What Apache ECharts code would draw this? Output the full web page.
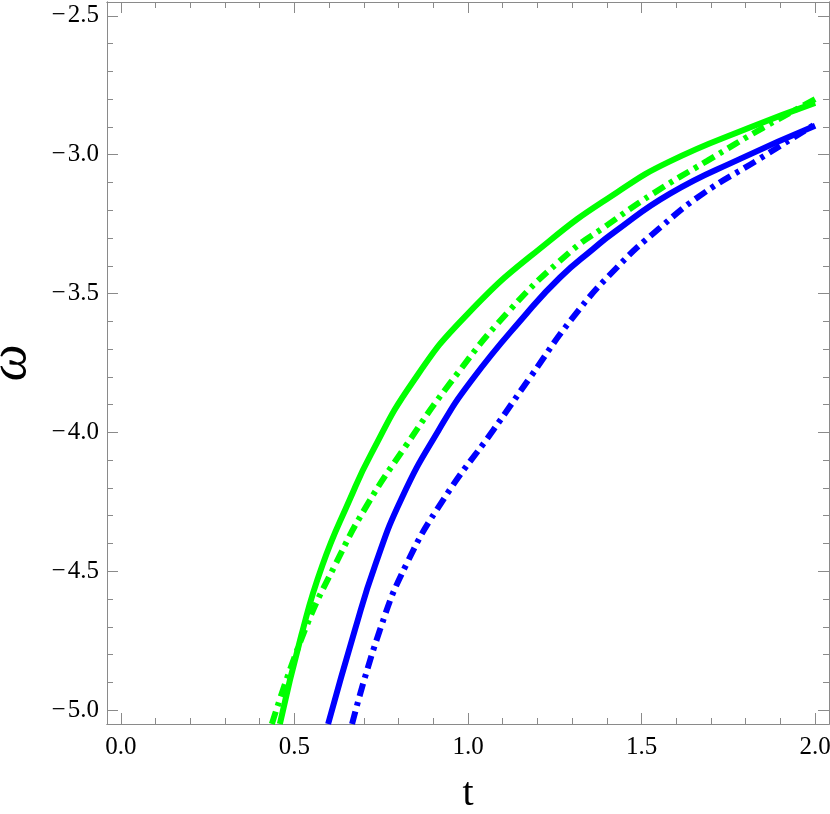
<!DOCTYPE html>
<html>
<head>
<meta charset="utf-8">
<script src="https://cdn.jsdelivr.net/npm/echarts@6/dist/echarts.min.js"></script>
<style>
html,body{margin:0;padding:0;background:#ffffff;}
#chart{width:830px;height:814px;}
</style>
</head>
<body>
<div id="chart"></div>
<script>
// Tick positions / labels
const xMajorTicks = [0.0, 0.5, 1.0, 1.5, 2.0];
const xMinorTicks = [0.1, 0.2, 0.3, 0.4, 0.6, 0.7, 0.8, 0.9, 1.1, 1.2, 1.3, 1.4, 1.6, 1.7, 1.8, 1.9];
const yMajorTicks = [-2.5, -3.0, -3.5, -4.0, -4.5, -5.0];
const yMinorTicks = [-2.6, -2.7, -2.8, -2.9, -3.1, -3.2, -3.3, -3.4, -3.6, -3.7, -3.8, -3.9,
                     -4.1, -4.2, -4.3, -4.4, -4.6, -4.7, -4.8, -4.9];

// Series values (t, omega)
const greenSolidT = [0.458, 0.52, 0.58, 0.66, 0.72, 0.84, 1.0, 1.23, 1.43, 1.58, 1.81, 2.0];
const greenSolidW = [-5.05, -4.73, -4.48, -4.24, -4.08, -3.82, -3.572, -3.315, -3.135, -3.025, -2.903, -2.813];

const greenDashT = [0.435, 0.53, 0.62, 0.71, 0.82, 0.95, 1.12, 1.294, 1.39, 1.533, 1.689, 1.85, 2.0];
const greenDashW = [-5.05, -4.712, -4.47, -4.26, -4.05, -3.82, -3.56, -3.35, -3.263, -3.14, -3.022, -2.903, -2.80];

const blueSolidT = [0.597, 0.674, 0.732, 0.81, 0.915, 1.01, 1.17, 1.265, 1.36, 1.42, 1.582, 1.784, 2.0];
const blueSolidW = [-5.05, -4.712, -4.48, -4.234, -3.993, -3.813, -3.57, -3.442, -3.34, -3.28, -3.14, -3.015, -2.896];

const blueDashT = [0.666, 0.746, 0.824, 0.93, 1.072, 1.18, 1.303, 1.429, 1.553, 1.677, 1.833, 2.0];
const blueDashW = [-5.05, -4.712, -4.471, -4.24, -3.993, -3.80, -3.585, -3.406, -3.263, -3.14, -3.02, -2.89];

const zip = (a, b) => a.map((v, i) => [v, b[i]]);

const frameColor = '#8a8a8a';
const labelFont = { fontFamily: 'Liberation Serif', fontSize: 25, color: '#000' };
const fmtX = v => v.toFixed(1);
const fmtY = v => (v < 0 ? '\u2212\u200A' : '') + Math.abs(v).toFixed(1);

function xAxisDef(position, ticks, len, withLabels, extra) {
  return Object.assign({
    type: 'value', gridIndex: 0, position: position, min: -0.04, max: 2.04,
    axisLine: { show: true, onZero: false, lineStyle: { color: frameColor, width: 1 } },
    axisTick: { show: true, inside: true, length: len, customValues: ticks, lineStyle: { color: frameColor, width: 1 } },
    axisLabel: withLabels ? Object.assign({ show: true, margin: 11, customValues: xMajorTicks, formatter: fmtX }, labelFont) : { show: false },
    splitLine: { show: false }
  }, extra || {});
}
function yAxisDef(position, ticks, len, withLabels, extra) {
  return Object.assign({
    type: 'value', gridIndex: 0, position: position, min: -5.05, max: -2.45,
    axisLine: { show: true, onZero: false, lineStyle: { color: frameColor, width: 1 } },
    axisTick: { show: true, inside: true, length: len, customValues: ticks, lineStyle: { color: frameColor, width: 1 } },
    axisLabel: withLabels ? Object.assign({ show: true, margin: 8, customValues: yMajorTicks, formatter: fmtY }, labelFont) : { show: false },
    splitLine: { show: false }
  }, extra || {});
}

const chart = echarts.init(document.getElementById('chart'), null, { renderer: 'canvas' });

const dashPattern = [13, 6, 4, 6];
const lineSeries = (t, w, color, dashed) => ({
  type: 'line', xAxisIndex: 0, yAxisIndex: 0, data: zip(t, w), smooth: 0.5,
  showSymbol: false, symbol: 'none', clip: true,
  lineStyle: dashed ? { color: color, width: 6, type: dashPattern, cap: 'butt' } : { color: color, width: 6 }
});

chart.setOption({
  animation: false,
  backgroundColor: '#ffffff',
  grid: { left: 107, right: 1, top: 2, bottom: 90, containLabel: false, outerBoundsMode: 'none' },
  xAxis: [
    xAxisDef('bottom', xMajorTicks, 11, true, {
      name: 't', nameLocation: 'middle', nameGap: 50,
      nameTextStyle: { fontFamily: 'Liberation Serif', fontSize: 40, color: '#000' }
    }),
    xAxisDef('bottom', xMinorTicks, 6, false),
    xAxisDef('top', xMajorTicks, 11, false),
    xAxisDef('top', xMinorTicks, 6, false)
  ],
  yAxis: [
    yAxisDef('left', yMajorTicks, 11, true, {
      name: '\u03C9', nameLocation: 'middle', nameGap: 70, nameRotate: 90,
      nameTextStyle: { fontFamily: 'Liberation Serif', fontStyle: 'italic', fontSize: 52, color: '#000' }
    }),
    yAxisDef('left', yMinorTicks, 6, false),
    yAxisDef('right', yMajorTicks, 11, false),
    yAxisDef('right', yMinorTicks, 6, false)
  ],
  series: [
    lineSeries(greenSolidT, greenSolidW, '#00ff00', false),
    lineSeries(greenDashT, greenDashW, '#00ff00', true),
    lineSeries(blueSolidT, blueSolidW, '#0000ff', false),
    lineSeries(blueDashT, blueDashW, '#0000ff', true)
  ]
});
</script>
</body>
</html>
